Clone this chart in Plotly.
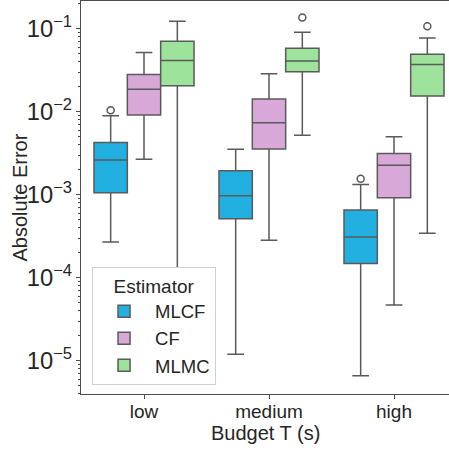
import plotly.graph_objects as go

categories = ["low", "medium", "high"]
estimators = ["MLCF", "CF", "MLMC"]
colors = {"MLCF": "#22b0e0", "CF": "#d8a8d8", "MLMC": "#9de39b"}
x_title = "Budget T (s)"
y_title = "Absolute Error"

# Box statistics per estimator (low, medium, high)
mlcf_lower = [0.00027, 0.000012, 0.0000066]
mlcf_q1 = [0.00106, 0.000516, 0.000149]
mlcf_median = [0.00264, 0.000975, 0.00031]
mlcf_q3 = [0.00427, 0.00195, 0.000655]
mlcf_upper = [0.0090, 0.00354, 0.00133]
mlcf_outliers = [[0.0105], [], [0.00156]]

cf_lower = [0.00269, 0.000283, 0.0000469]
cf_q1 = [0.0092, 0.00358, 0.000922]
cf_median = [0.0188, 0.00741, 0.00227]
cf_q3 = [0.0283, 0.0143, 0.00315]
cf_upper = [0.0519, 0.0288, 0.00503]
cf_outliers = [[], [], []]

mlmc_lower = [0.0000226, 0.00522, 0.000344]
mlmc_q1 = [0.0207, 0.0304, 0.0155]
mlmc_median = [0.0416, 0.0412, 0.0373]
mlmc_q3 = [0.0711, 0.0586, 0.0497]
mlmc_upper = [0.124, 0.0912, 0.078]
mlmc_outliers = [[], [0.137], [0.108]]

stats = {
    "MLCF": (mlcf_lower, mlcf_q1, mlcf_median, mlcf_q3, mlcf_upper, mlcf_outliers),
    "CF": (cf_lower, cf_q1, cf_median, cf_q3, cf_upper, cf_outliers),
    "MLMC": (mlmc_lower, mlmc_q1, mlmc_median, mlmc_q3, mlmc_upper, mlmc_outliers),
}

group_width = 0.8
box_w = group_width / len(estimators)
line_col = "#5a5a5a"

fig = go.Figure()
for k, name in enumerate(estimators):
    lo, q1, med, q3, up, outs = stats[name]
    off = (k - (len(estimators) - 1) / 2) * box_w
    xs = [i + off for i in range(len(categories))]
    fig.add_trace(go.Box(
        name=name,
        x=xs,
        q1=q1, median=med, q3=q3, lowerfence=lo, upperfence=up,
        width=box_w,
        boxpoints=False,
        fillcolor=colors[name],
        line=dict(color=line_col, width=1.5),
        whiskerwidth=0.5,
    ))
    ox, oy = [], []
    for i, vals in enumerate(outs):
        for v in vals:
            ox.append(xs[i])
            oy.append(v)
    if ox:
        fig.add_trace(go.Scatter(
            x=ox, y=oy, mode="markers", showlegend=False, hoverinfo="y",
            marker=dict(symbol="circle-open", size=7, color=line_col,
                        line=dict(width=1.5, color=line_col)),
        ))

font_family = "Liberation Sans, Arial, sans-serif"
fig.update_layout(
    width=449, height=450,
    margin=dict(l=81, r=0, t=1, b=56),
    paper_bgcolor="white", plot_bgcolor="white",
    boxmode="overlay",
    font=dict(family=font_family, size=18, color="#262626"),
    showlegend=True,
    legend=dict(
        x=0.03, y=0.023, xanchor="left", yanchor="bottom",
        bgcolor="white", bordercolor="#d0d0d0", borderwidth=1,
        title=dict(text="Estimator", side="top center", font=dict(size=19)),
        font=dict(size=18.5),
        itemwidth=52,
    ),
    xaxis=dict(
        range=[-0.504, 2.44], automargin=False,
        tickvals=list(range(len(categories))), ticktext=categories,
        showline=True, linecolor="#4d4d4d", linewidth=1.25, mirror=True,
        ticks="outside", ticklen=4, tickcolor="#4d4d4d",
        ticklabelstandoff=-4,
        showgrid=False, zeroline=False,
        tickfont=dict(size=19),
    ),
    yaxis=dict(
        type="log", range=[-5.401, -0.663], automargin=False,
        dtick=1, exponentformat="power", showexponent="all",
        showline=True, linecolor="#4d4d4d", linewidth=1.25, mirror=False,
        ticks="outside", ticklen=4, tickcolor="#4d4d4d",
        minor=dict(ticks="outside", ticklen=2, tickcolor="#4d4d4d", dtick="D1", showgrid=False),
        showgrid=False, zeroline=False,
        tickfont=dict(size=19),
    ),
    annotations=[
        dict(text=y_title, xref="paper", yref="paper", x=-0.1658, y=0.5,
             xanchor="center", yanchor="middle", textangle=-90,
             showarrow=False, font=dict(size=20)),
        dict(text=x_title, xref="paper", yref="paper", x=0.5, y=-0.0992,
             xanchor="center", yanchor="middle",
             showarrow=False, font=dict(size=20)),
    ],
)

fig.write_html("out.html", config={"displayModeBar": False},
               post_script="document.body.style.margin='0px';")
